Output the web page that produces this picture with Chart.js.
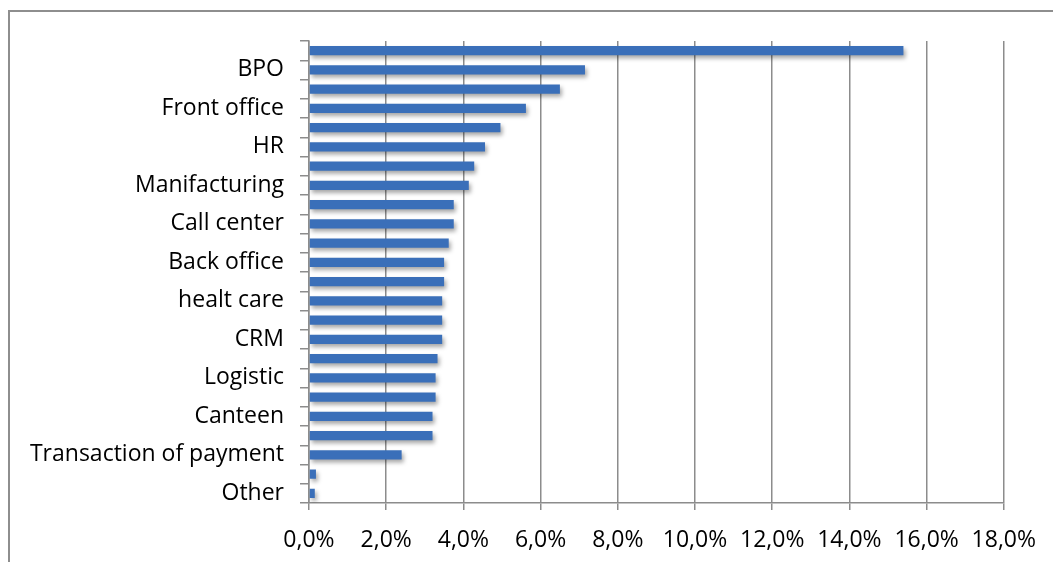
<!DOCTYPE html>
<html lang="en">
<head>
    <meta charset="UTF-8">
    <title>Sectors</title>
    <script src="https://cdn.jsdelivr.net/npm/chart.js"></script>
    <style>
        body {
            margin: 0;
            padding: 0;
            background-color: #ffffff;
        }
        #chart-container {
            width: 1053px;
            height: 562px;
            position: relative;
        }
    </style>
</head>
<body>
    <div id="chart-container">
        <canvas id="myChart"></canvas>
    </div>

    <script>
        // every second category label is hidden in the original, so those stay empty
        const categories = ['', 'BPO', '', 'Front office', '', 'HR', '', 'Manifacturing', '', 'Call center',
            '', 'Back office', '', 'healt care', '', 'CRM', '', 'Logistic', '', 'Canteen',
            '', 'Transaction of payment', '', 'Other'];
        const shares = [15.4, 7.15, 6.5, 5.62, 4.96, 4.56, 4.28, 4.14, 3.75, 3.75,
            3.62, 3.5, 3.5, 3.45, 3.45, 3.45, 3.33, 3.28, 3.28, 3.2,
            3.2, 2.4, 0.18, 0.15];
        const xTicks = [0, 2, 4, 6, 8, 10, 12, 14, 16, 18];

        const gridGray = '#8c8c8c';
        const labelFont = { family: 'Open Sans', size: 23 };

        // outer frame (only left and top edges are visible in the picture)
        const framePlugin = {
            id: 'frame',
            beforeDraw(chart) {
                const ctx = chart.ctx;
                ctx.save();
                ctx.strokeStyle = '#8e8e8e';
                ctx.lineWidth = 2;
                ctx.beginPath();
                ctx.moveTo(9, 562);
                ctx.lineTo(9, 11);
                ctx.lineTo(1053, 11);
                ctx.stroke();
                ctx.restore();
            }
        };

        // soft drop shadow under the bars
        const shadowPlugin = {
            id: 'barShadow',
            beforeDatasetDraw(chart) {
                const ctx = chart.ctx;
                ctx.save();
                ctx.shadowColor = 'rgba(0,0,0,0.35)';
                ctx.shadowBlur = 4;
                ctx.shadowOffsetX = 2;
                ctx.shadowOffsetY = 3;
            },
            afterDatasetDraw(chart) {
                chart.ctx.restore();
            }
        };

        const ctx = document.getElementById('myChart').getContext('2d');
        const myChart = new Chart(ctx, {
            type: 'bar',
            data: {
                labels: categories,
                datasets: [{
                    data: shares,
                    backgroundColor: '#3a6fb9',
                    barPercentage: 0.47,
                    categoryPercentage: 1.0,
                }],
            },
            options: {
                indexAxis: 'y',
                responsive: true,
                maintainAspectRatio: false,
                animation: false,
                layout: {
                    padding: { left: 9, top: 41, right: 49, bottom: 0 },
                },
                plugins: {
                    legend: { display: false },
                    tooltip: { enabled: false },
                },
                scales: {
                    x: {
                        min: 0,
                        max: 18,
                        afterBuildTicks: (scale) => {
                            scale.ticks = xTicks.map(v => ({ value: v }));
                        },
                        afterFit: (scale) => {
                            scale.height = 59;
                        },
                        ticks: {
                            color: '#000000',
                            font: labelFont,
                            padding: 17,
                            maxRotation: 0,
                            callback: (v) => v.toFixed(1).replace('.', ',') + '%',
                        },
                        grid: {
                            color: gridGray,
                            lineWidth: 1.5,
                            tickLength: 7,
                        },
                        border: { color: gridGray, width: 1.5 },
                    },
                    y: {
                        afterFit: (scale) => {
                            scale.width = 300;
                        },
                        ticks: {
                            color: '#000000',
                            font: labelFont,
                            padding: 16,
                            autoSkip: false,
                        },
                        grid: {
                            drawOnChartArea: false,
                            color: gridGray,
                            lineWidth: 1.5,
                            tickLength: 9,
                        },
                        border: { color: gridGray, width: 1.5 },
                    },
                },
            },
            plugins: [framePlugin, shadowPlugin],
        });
    </script>
</body>
</html>
